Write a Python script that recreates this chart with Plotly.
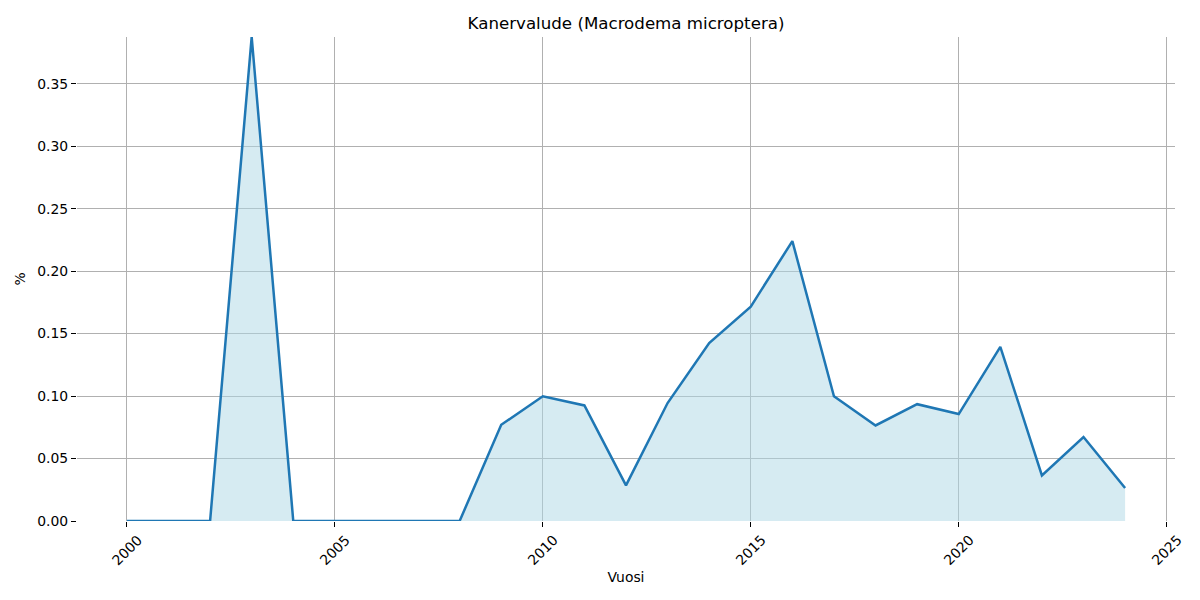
import plotly.graph_objects as go

years = list(range(2000, 2025))
values = [0.0, 0.0, 0.0, 0.3874, 0.0, 0.0, 0.0, 0.0, 0.0,
          0.077, 0.0998, 0.0925, 0.0285, 0.0944, 0.1424, 0.1716, 0.224,
          0.0998, 0.0765, 0.0935, 0.0856, 0.1394, 0.0365, 0.0672, 0.0264]
xticks = [2000, 2005, 2010, 2015, 2020, 2025]
yticks = [0.0, 0.05, 0.10, 0.15, 0.20, 0.25, 0.30, 0.35]

FONT = "DejaVu Sans"
FS = 13.9
fig = go.Figure()
fig.add_trace(go.Scatter(x=years, y=values, mode="lines", line=dict(width=0),
                         fill="tozeroy", fillcolor="rgba(173,216,230,0.5)",
                         hoverinfo="skip", showlegend=False))
fig.add_trace(go.Scatter(x=years, y=values, mode="lines",
                         line=dict(color="#1f77b4", width=2.5), showlegend=False))

for t in xticks:
    fig.add_annotation(x=t, y=0, xref="x", yref="paper", yshift=-8,
                       text=str(t), textangle=-45, showarrow=False,
                       xanchor="center", yanchor="top",
                       font=dict(family=FONT, size=FS, color="black"))

fig.update_layout(
    width=1192, height=592,
    margin=dict(l=67, r=25, t=29, b=79),
    paper_bgcolor="white", plot_bgcolor="white",
    font=dict(family=FONT, size=FS, color="black"),
    title=dict(text="Kanervalude (Macrodema microptera)", x=0.5, xref="paper",
               y=1 - 15 / 592, yanchor="middle", font=dict(size=16.67, family=FONT)),
    xaxis=dict(range=[1998.8, 2025.2], tickvals=xticks, showticklabels=False,
               showgrid=True, gridcolor="#b0b0b0", gridwidth=1,
               ticks="outside", ticklen=5, tickcolor="black", tickwidth=1,
               showline=False, zeroline=False,
               title=dict(text="Vuosi", standoff=46, font=dict(size=FS))),
    yaxis=dict(range=[0, 0.3874], tickvals=yticks, tickformat=".2f",
               showgrid=True, gridcolor="#b0b0b0", gridwidth=1,
               ticks="outside", ticklen=5, tickcolor="black", tickwidth=1,
               showline=False, zeroline=False,
               title=dict(text="%", standoff=8, font=dict(size=FS))),
)
fig.write_html("out.html")
